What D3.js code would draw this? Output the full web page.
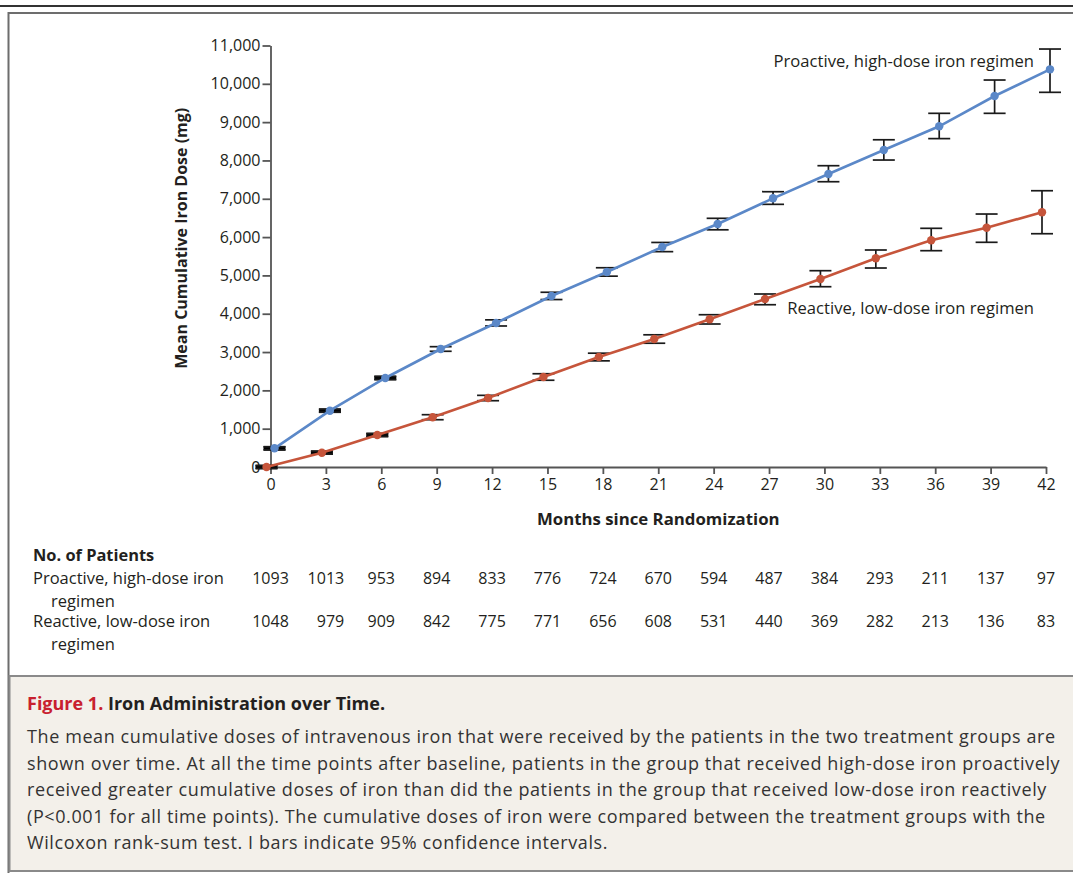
<!DOCTYPE html>
<html>
<head>
<meta charset="utf-8">
<script src="https://cdn.jsdelivr.net/npm/d3@7"></script>
<style>
  body { margin: 0; background: #fff; }
  svg { display: block; font-family: "Open Sans", sans-serif; }
</style>
</head>
<body>
<div class="iron-chart"></div>
<script>
// months since randomization
const months = [0, 3, 6, 9, 12, 15, 18, 21, 24, 27, 30, 33, 36, 39, 42];

// proactive, high-dose (mean and 95% CI)
const proMean  = [488, 1469, 2323, 3079, 3758, 4462, 5089, 5741, 6341, 7012, 7646, 8272, 8891, 9682, 10378];
const proLower = [448, 1430, 2283, 3020, 3680, 4370, 4980, 5620, 6190, 6855, 7445, 8011, 8570, 9230, 9778];
const proUpper = [528, 1508, 2363, 3140, 3840, 4560, 5200, 5860, 6490, 7184, 7863, 8540, 9230, 10099, 10908];

// reactive, low-dose (mean and 95% CI)
const reaMean  = [0, 373, 835, 1297, 1800, 2349, 2870, 3340, 3854, 4384, 4906, 5446, 5916, 6245, 6647];
const reaLower = [-38, 335, 797, 1234, 1730, 2264, 2770, 3230, 3732, 4235, 4705, 5193, 5645, 5864, 6088];
const reaUpper = [38, 411, 873, 1365, 1870, 2434, 2970, 3450, 3974, 4515, 5123, 5663, 6229, 6602, 7210];

// number of patients at risk
const proN = [1093, 1013, 953, 894, 833, 776, 724, 670, 594, 487, 384, 293, 211, 137, 97];
const reaN = [1048, 979, 909, 842, 775, 771, 656, 608, 531, 440, 369, 282, 213, 136, 83];

const yTicks = [0, 1000, 2000, 3000, 4000, 5000, 6000, 7000, 8000, 9000, 10000, 11000];

const captionLines = [
	"The mean cumulative doses of intravenous iron that were received by the patients in the two treatment groups are",
	"shown over time. At all the time points after baseline, patients in the group that received high-dose iron proactively",
	"received greater cumulative doses of iron than did the patients in the group that received low-dose iron reactively",
	"(P<0.001 for all time points). The cumulative doses of iron were compared between the treatment groups with the",
	"Wilcoxon rank-sum test. I bars indicate 95% confidence intervals."
];

const width = 1073;
const height = 873;
const blue = '#5b88c8';
const red = '#c6553b';
const ink = '#231f20';

const svg = d3.select('.iron-chart')
	.append('svg')
	.attr('width', width)
	.attr('height', height);

// frame
svg.append('line')
	.attr('x1', 0).attr('x2', width)
	.attr('y1', 6).attr('y2', 6)
	.attr('stroke', '#333').attr('stroke-width', 2);
svg.append('rect')
	.attr('x', 8.5).attr('y', 13)
	.attr('width', width + 10).attr('height', height)
	.attr('fill', 'none')
	.attr('stroke', '#6d6d6d').attr('stroke-width', 2);
svg.append('rect')
	.attr('x', 9.5).attr('y', 676)
	.attr('width', width).attr('height', 195)
	.attr('fill', '#f3f0ea')
	.attr('stroke', '#8a8a8a').attr('stroke-width', 2);

const x = d3.scaleLinear().domain([0, 42]).range([270.5, 1046]);
const y = d3.scaleLinear().domain([0, 11000]).range([467, 45.5]);

// axes
const yAxis = svg.append('g')
	.attr('transform', 'translate(' + x(0) + ',0)')
	.call(d3.axisLeft(y).tickValues(yTicks).tickFormat(d3.format(',')).tickSize(8).tickSizeOuter(0).tickPadding(2));
const xAxis = svg.append('g')
	.attr('transform', 'translate(0,' + y(0) + ')')
	.call(d3.axisBottom(x).tickValues(months).tickSize(7).tickSizeOuter(0).tickPadding(5));

[xAxis, yAxis].forEach(function(g) {
	g.selectAll('path, line').attr('stroke', '#555').attr('stroke-width', 1.8);
	g.selectAll('text').attr('font-size', '16px').attr('fill', ink).attr('font-family', '"Open Sans", sans-serif');
});

svg.append('text')
	.attr('transform', 'translate(187,' + ((y(0) + y(11000)) / 2 - 18) + ') rotate(-90)')
	.attr('text-anchor', 'middle')
	.attr('font-size', '16px')
	.attr('font-weight', 'bold')
	.attr('fill', ink)
	.text('Mean Cumulative Iron Dose (mg)');

svg.append('text')
	.attr('x', (x(0) + x(42)) / 2)
	.attr('y', 525)
	.attr('text-anchor', 'middle')
	.attr('font-size', '16.8px')
	.attr('font-weight', 'bold')
	.attr('fill', ink)
	.text('Months since Randomization');

// series
const series = [
	{ name: 'pro', color: blue, dx: 4, mean: proMean, lo: proLower, hi: proUpper },
	{ name: 'rea', color: red, dx: -4, mean: reaMean, lo: reaLower, hi: reaUpper }
];

series.forEach(function(s) {
	const pts = months.map(function(m, i) {
		return { m: m, v: s.mean[i], lo: s.lo[i], hi: s.hi[i] };
	});
	const g = svg.append('g').attr('class', s.name);

	const bars = g.selectAll('.ci')
		.data(pts)
		.enter()
		.append('g')
		.attr('class', 'ci')
		.attr('stroke', '#1a1a1a')
		.attr('stroke-width', 1.7);
	bars.append('line')
		.attr('x1', function(d) { return x(d.m) + s.dx; })
		.attr('x2', function(d) { return x(d.m) + s.dx; })
		.attr('y1', function(d) { return y(d.lo); })
		.attr('y2', function(d) { return y(d.hi); });
	// caps; the short intervals merge into one thick dash
	bars.append('rect')
		.attr('x', function(d) { return x(d.m) + s.dx - 11; })
		.attr('width', 22)
		.attr('y', function(d) { return y(d.hi) - 0.85; })
		.attr('height', function(d) { return Math.max(0, y(d.lo) - y(d.hi) - 1.7) < 2.5 ? y(d.lo) - y(d.hi) + 1.7 : 0; })
		.attr('stroke', 'none')
		.attr('fill', '#000');
	bars.append('line')
		.attr('x1', function(d) { return x(d.m) + s.dx - 11; })
		.attr('x2', function(d) { return x(d.m) + s.dx + 11; })
		.attr('y1', function(d) { return y(d.lo); })
		.attr('y2', function(d) { return y(d.lo); });
	bars.append('line')
		.attr('x1', function(d) { return x(d.m) + s.dx - 11; })
		.attr('x2', function(d) { return x(d.m) + s.dx + 11; })
		.attr('y1', function(d) { return y(d.hi); })
		.attr('y2', function(d) { return y(d.hi); });

	g.append('path')
		.datum(pts)
		.attr('fill', 'none')
		.attr('stroke', s.color)
		.attr('stroke-width', 2.6)
		.attr('d', d3.line()
			.x(function(d) { return x(d.m) + s.dx; })
			.y(function(d) { return y(d.v); }));

	g.selectAll('.pt')
		.data(pts)
		.enter()
		.append('circle')
		.attr('class', 'pt')
		.attr('cx', function(d) { return x(d.m) + s.dx; })
		.attr('cy', function(d) { return y(d.v); })
		.attr('r', 4.2)
		.attr('fill', s.color);
});

// series labels
svg.append('text')
	.attr('x', 1034).attr('y', 67)
	.attr('text-anchor', 'end')
	.attr('font-size', '16.6px')
	.attr('fill', ink)
	.text('Proactive, high-dose iron regimen');
svg.append('text')
	.attr('x', 1034).attr('y', 314)
	.attr('text-anchor', 'end')
	.attr('font-size', '16.6px')
	.attr('fill', ink)
	.text('Reactive, low-dose iron regimen');

// number at risk table
svg.append('text')
	.attr('x', 33).attr('y', 561)
	.attr('font-size', '16.4px')
	.attr('font-weight', 'bold')
	.attr('fill', ink)
	.text('No. of Patients');

const rowLabels = [
	['Proactive, high-dose iron', 'regimen'],
	['Reactive, low-dose iron', 'regimen']
];
const rowY = [584, 627];
rowLabels.forEach(function(lines, r) {
	lines.forEach(function(t, k) {
		svg.append('text')
			.attr('x', k === 0 ? 33 : 51)
			.attr('y', rowY[r] + k * 23)
			.attr('font-size', '16.5px')
			.attr('fill', ink)
			.text(t);
	});
});

const rows = [proN, reaN];
const cells = rows.map(function(vals, r) {
	return svg.selectAll('.n' + r)
		.data(vals)
		.enter()
		.append('text')
		.attr('class', 'n' + r)
		.attr('y', rowY[r])
		.attr('text-anchor', 'end')
		.attr('font-size', '16px')
		.attr('fill', ink)
		.text(function(d) { return d; });
});
// right-align each column, column centred on its tick
months.forEach(function(m, i) {
	const w = d3.max(cells, function(sel) { return sel.nodes()[i].getComputedTextLength(); });
	cells.forEach(function(sel) {
		d3.select(sel.nodes()[i]).attr('x', x(m) + w / 2);
	});
});

// caption
const title = svg.append('text')
	.attr('x', 27).attr('y', 710)
	.attr('font-size', '18px')
	.attr('font-weight', 'bold');
title.append('tspan').attr('fill', '#c8202f').text('Figure 1. ');
title.append('tspan').attr('fill', ink).text('Iron Administration over Time.');

svg.selectAll('.cap')
	.data(captionLines)
	.enter()
	.append('text')
	.attr('class', 'cap')
	.attr('x', 27)
	.attr('y', function(d, i) { return 743 + i * 26.5; })
	.attr('font-size', '18px')
	.attr('letter-spacing', '0.6px')
	.attr('fill', '#333')
	.text(function(d) { return d; });
</script>
</body>
</html>
